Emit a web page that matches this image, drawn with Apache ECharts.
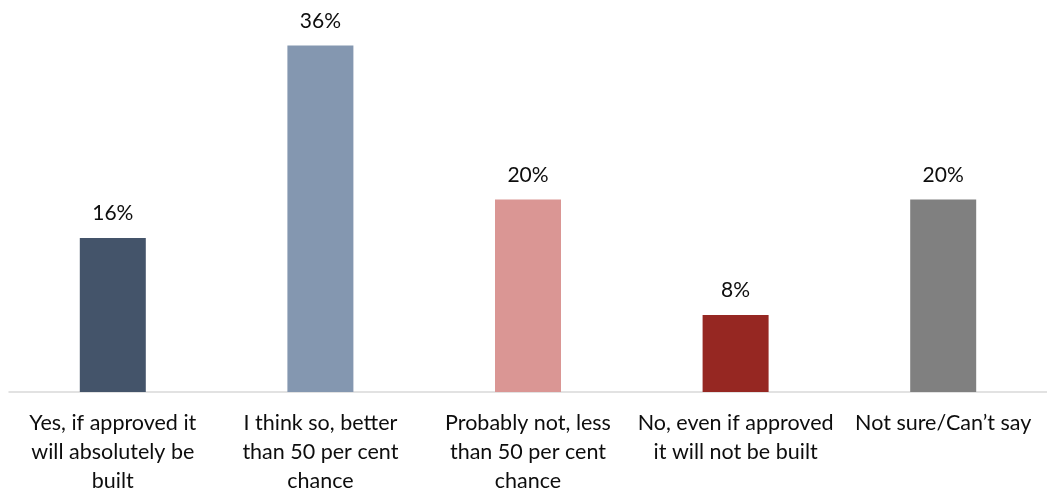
<!DOCTYPE html>
<html>
<head>
<meta charset="utf-8">
<script src="https://cdn.jsdelivr.net/npm/echarts@6/dist/echarts.min.js"></script>
<style>html,body{margin:0;padding:0;background:#fff;}#c{width:1047px;height:496px;}</style>
</head>
<body>
<div id="c"></div>
<script>
const categories = [
  "Yes, if approved it\nwill absolutely be\nbuilt",
  "I think so, better\nthan 50 per cent\nchance",
  "Probably not, less\nthan 50 per cent\nchance",
  "No, even if approved\nit will not be built",
  "Not sure/Can\u2019t say"
];
const values = [16, 36, 20, 8, 20];
const colors = ["#44546A", "#8497B0", "#DA9694", "#962722", "#808080"];

const chart = echarts.init(document.getElementById('c'));
chart.setOption({
  animation: false,
  grid: { left: 9, width: 1050, top: 7, bottom: 100, containLabel: false },
  xAxis: {
    type: 'category',
    data: categories,
    axisLine: { lineStyle: { color: '#D9D9D9', width: 1.5 } },
    axisTick: { show: false },
    axisLabel: {
      interval: 0,
      color: '#0d0d0d',
      fontFamily: 'Lato, "Open Sans", sans-serif',
      fontSize: 21.5,
      lineHeight: 29,
      margin: 17
    }
  },
  yAxis: {
    type: 'value', min: 0, max: 40, show: false,
    splitLine: { show: false }
  },
  series: [{
    type: 'bar',
    barWidth: 66,
    data: values.map((v, i) => ({ value: v, itemStyle: { color: colors[i] } })),
    label: {
      show: true, position: 'top', distance: 14,
      formatter: '{c}%',
      color: '#0d0d0d',
      fontFamily: 'Lato, "Open Sans", sans-serif',
      fontSize: 21
    }
  }]
});
</script>
</body>
</html>
